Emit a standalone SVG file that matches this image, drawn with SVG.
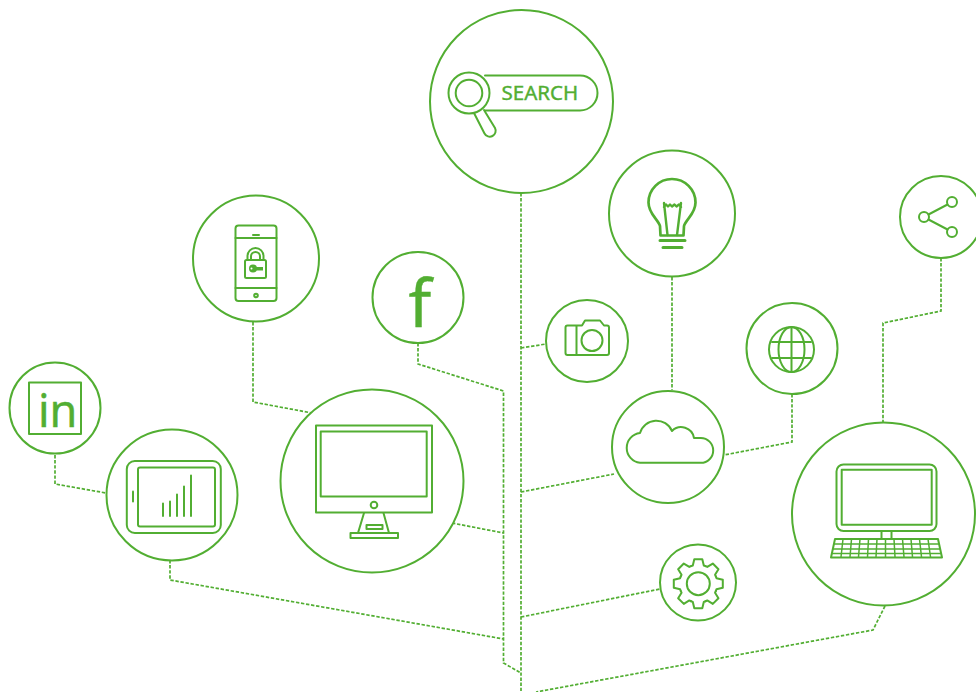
<svg xmlns="http://www.w3.org/2000/svg" xmlns:xlink="http://www.w3.org/1999/xlink" width="976" height="692" viewBox="0 0 976 692">
<style>
.c{fill:#fff;stroke:#52ae32;stroke-width:2}
.i{fill:none;stroke:#52ae32;stroke-width:2;stroke-linejoin:round;stroke-linecap:round}
.t{fill:none;stroke:#52ae32;stroke-width:1.5;stroke-linejoin:round}
.w{stroke-width:3}
.d{fill:none;stroke:#52ae32;stroke-width:1.7;stroke-dasharray:3.4 1.7}
text{fill:#52ae32;font-family:"Noto Sans","Open Sans",sans-serif;stroke:#52ae32;stroke-width:.4}
</style>
<defs><path id="tooth" d="M-7.27-17.55L-5.5-18.2L-4-24.5L4-24.5L5.500-18.2L7.270-17.55"/></defs>
<rect width="976" height="692" fill="#fff"/>
<g id="connectors">
<path class="d" d="M521 193V692"/>
<path class="d" d="M418 343V364L503.500 391V663L521 673"/>
<path class="d" d="M253 322V402L312 413"/>
<path class="d" d="M55 455V484L106 493"/>
<path class="d" d="M170 560V580L503.500 639"/>
<path class="d" d="M452 523L503.500 533"/>
<path class="d" d="M521 348L546 344"/>
<path class="d" d="M672 277V390"/>
<path class="d" d="M521 492L614 474"/>
<path class="d" d="M792 394V442L724 455"/>
<path class="d" d="M941 258V311L883 323V422"/>
<path class="d" d="M521 617L660 589"/>
<path class="d" d="M885 606L873 630L536 692"/>
</g>
<g id="search">
<circle class="c" cx="521.500" cy="101.500" r="91.500"/>
<path class="i" d="M485 75.500H580A17.500 17.500 0 0 1 580 110.500H485"/>
<path class="i" d="M474 113L484.500 133.500A5.500 5.500 0 0 0 495 128L484 110"/>
<circle class="i" cx="469" cy="93" r="20.500"/>
<circle class="i" cx="469" cy="93" r="13.300"/>
<text x="501.500" y="100" font-size="20.500">SEARCH</text>
</g>
<g id="phone">
<circle class="c" cx="256" cy="258.500" r="63"/>
<rect class="i" x="235.500" y="225.500" width="41" height="75.500" rx="3"/>
<path class="i" d="M235.500 238H276.500M235.500 288H276.500M253 235H259"/>
<circle class="i" cx="256" cy="295.500" r="1.800"/>
<rect class="i" x="245" y="260" width="21" height="18" rx="1.500"/>
<path class="i" d="M247.500 260V256A8 8 0 0 1 263.500 256V260M251 260V256.500A4.500 4.500 0 0 1 260 256.500V260"/>
<circle cx="253" cy="268.500" r="4" fill="#52ae32"/>
<path d="M254 267H263V270.500H254Z" fill="#52ae32"/>
<circle cx="251.500" cy="268.500" r="1" fill="#fff"/>
</g>
<g id="facebook">
<circle class="c" cx="418" cy="297.500" r="45.500"/>
<text x="408.500" y="327" font-size="66">f</text>
</g>
<g id="bulb">
<circle class="c" cx="672" cy="213.500" r="63"/>
<path class="i" style="stroke-width:2.700" d="M660.500 235.500L660 226C658 219 648.500 214 648.500 202.500A23.500 23.500 0 0 1 695.500 202.500C695.500 214 686 219 684 226L683.500 235.500Z"/>
<path class="i" style="stroke-width:2.400" d="M664 203L667.500 235M681 203L677 235M664 207L666 204.500L668 206.500L670 204.500L672 206.500L674.500 204.500L676.500 206.500L679 204.500L681 207"/>
<path class="i w" d="M660 240.500H685M663 247.500H682"/>
</g>
<g id="linkedin">
<circle class="c" cx="55" cy="408" r="45.500"/>
<rect class="i" x="29" y="382.500" width="52" height="51.500" stroke-linejoin="miter"/>
<text x="38" y="426.500" font-size="45">in</text>
</g>
<g id="tablet">
<circle class="c" cx="172" cy="495" r="65.500"/>
<rect class="i" x="126.800" y="461" width="94" height="72" rx="8"/>
<rect class="i" x="138" y="467.500" width="77" height="59" rx="2"/>
<path class="i" d="M133 491.500V501.500"/>
<path class="i" d="M163 516V503.500M170 516V501.500M177 516V494.500M184 516V486.500M191 516V475.500"/>
</g>
<g id="monitor">
<circle class="c" cx="372" cy="481" r="91.500"/>
<rect class="i" x="316" y="425.500" width="116" height="87" stroke-linejoin="miter"/>
<rect class="i" x="320.700" y="431.500" width="106" height="65"/>
<circle class="i" cx="374" cy="505" r="3.300"/>
<path class="i" d="M364 513L358 533H389L383.500 513"/>
<rect class="i" x="366.500" y="525" width="16" height="4"/>
<rect class="i" x="350.500" y="533" width="47.500" height="5"/>
</g>
<g id="camera">
<circle class="c" cx="587" cy="341" r="41"/>
<path class="i" d="M567.500 325.500H582L585 320.500H600L604 325.500H607A2 2 0 0 1 609 327.500V353A2 2 0 0 1 607 355H567.500A2 2 0 0 1 565.500 353V327.500A2 2 0 0 1 567.500 325.500ZM576.500 325.500V355"/>
<circle class="i" cx="592" cy="340.500" r="10.500"/>
</g>
<g id="cloud">
<circle class="c" cx="668" cy="447" r="56"/>
<path class="i" d="M640 462.800H700.800A12.400 12.400 0 0 0 700.800 438H694A13 13 0 0 0 672 431A17 17 0 0 0 640 433A15 15 0 0 0 640 462.800Z"/>
</g>
<g id="globe">
<circle class="c" cx="792" cy="348.500" r="45.500"/>
<circle class="i" cx="791.500" cy="349.500" r="22.500"/>
<ellipse class="i" cx="791.500" cy="349.500" rx="13" ry="22.500"/>
<path class="i" d="M791.500 327V372M772 342H811M772 358H811"/>
</g>
<g id="share">
<circle class="c" cx="941" cy="217" r="41"/>
<path class="i" d="M928.500 214.500L947.500 204.500M928.500 219.500L947.500 229.500"/>
<circle class="i" cx="924" cy="217" r="5"/>
<circle class="i" cx="952" cy="202" r="5"/>
<circle class="i" cx="952" cy="232" r="5"/>
</g>
<g id="desktop">
<circle class="c" cx="883.500" cy="514" r="91.500"/>
<rect class="i" x="836.500" y="464.500" width="100" height="66.500" rx="7"/>
<rect class="i" x="841.700" y="469.700" width="90" height="55"/>
<path class="i" d="M881.500 531V538.500M891.500 531V538.500"/>
<path class="i" d="M835 539H938L942 557.500H831Z"/>
<path class="t" d="M834 544H939M833 549H940M832 553.500H941M843 539L841 557M851.500 539L850 557M860 539L858.500 557M868.500 539L867.500 557M877 539L876 557M885.500 539V557M894 539L895 557M902.500 539L904 557M911 539L912.500 557M919.500 539L921.500 557M928 539L930.500 557"/>
</g>
<g id="gear">
<circle class="c" cx="698" cy="582.500" r="38"/>
<g class="i" transform="translate(698.300 583.700)">
<use xlink:href="#tooth"/>
<use xlink:href="#tooth" transform="rotate(45)"/>
<use xlink:href="#tooth" transform="rotate(90)"/>
<use xlink:href="#tooth" transform="rotate(135)"/>
<use xlink:href="#tooth" transform="rotate(180)"/>
<use xlink:href="#tooth" transform="rotate(225)"/>
<use xlink:href="#tooth" transform="rotate(270)"/>
<use xlink:href="#tooth" transform="rotate(315)"/>
</g>
<circle class="i" cx="698.300" cy="583.700" r="11.500"/>
</g>
</svg>
